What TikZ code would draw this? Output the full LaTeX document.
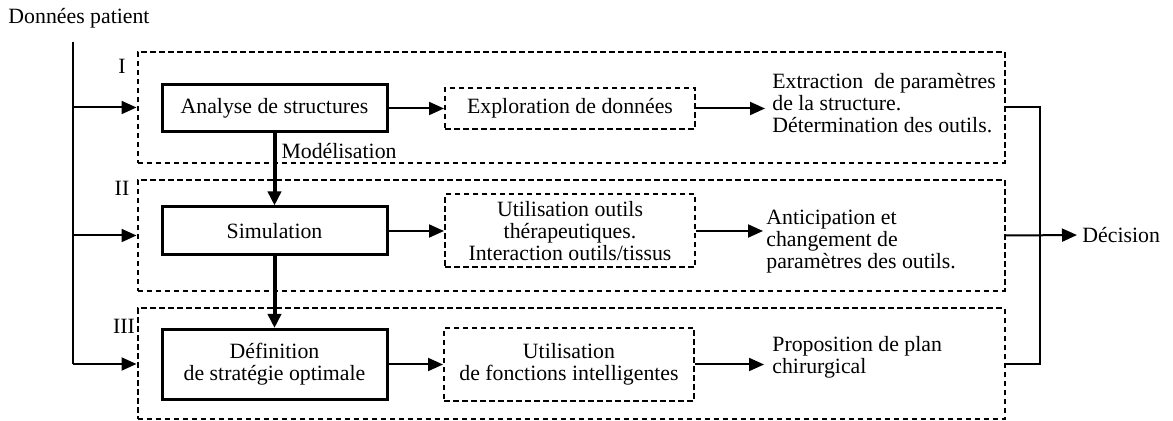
\documentclass[tikz,border=0pt]{standalone}
\usepackage{fontspec}
\setmainfont{Liberation Serif}
\usetikzlibrary{arrows.meta}

\begin{document}
\begin{tikzpicture}[x=0.5pt,y=-0.5pt,
	font=\fontsize{10.9}{11}\selectfont,
	frame/.style={draw,line width=1pt,dash pattern=on 2.75pt off 1.75pt,minimum width=433.5pt,minimum height=55.5pt,inner sep=0pt},
	mainbox/.style={draw,line width=1.5pt,minimum width=112.5pt,align=center,inner sep=0pt},
	subbox/.style={draw,line width=1pt,dash pattern=on 2.75pt off 1.75pt,minimum width=125pt,align=center,inner sep=0pt},
	outtext/.style={anchor=west,align=left,inner sep=0pt},
	arr/.style={line width=1pt,-{Triangle[length=7.5pt,width=6.5pt]}},
	bigarr/.style={line width=2pt,-{Triangle[length=7pt,width=6.5pt]}}]
	\useasboundingbox (0,0) rectangle (1173,421);
	\node (patient) at (79,18) {Données patient};
	\coordinate (ltop) at (73,42);
	\coordinate (lbot) at (73,364);
	\coordinate (join) at (1040,235);
	
	\node[frame] (frameI) at (571,107.5) {};
	\node[frame] (frameII) at (571,235.5) {};
	\node[frame] (frameIII) at (571,364) {};
	\node (lblI) at (122,66) {I};
	\node (lblII) at (122,188) {II};
	\node (lblIII) at (124,326) {III};
	
	\node[mainbox,minimum height=23.5pt] (analyse) at (274.5,108.5) {Analyse de structures};
	\node[mainbox,minimum height=24pt] (simul) at (274.5,231) {Simulation};
	\node[mainbox,minimum height=35pt] (strat) at (274.5,364.5) {Définition\\de stratégie optimale};
	
	\node[subbox,minimum height=20.5pt] (explor) at (570,108.5) {Exploration de données};
	\node[subbox,minimum height=36.5pt] (outils) at (570,231) {Utilisation outils\\thérapeutiques.\\Interaction outils/tissus};
	\node[subbox,minimum height=36.5pt] (fonct) at (569,364.5) {Utilisation\\de fonctions intelligentes};
	
	\node[outtext] (extract) at (772,103) {Extraction~ de paramètres\\de la structure.\\Détermination des outils.};
	\node[outtext] (antic) at (766,242) {Anticipation et\\changement de\\paramètres des outils.};
	\node[outtext] (propos) at (772,357.5) {Proposition de plan\\chirurgical};
	\node[outtext] (decision) at (1082,235) {Décision};
	
	% entree des donnees
	\draw[line width=1pt] (ltop) -- (lbot);
	\draw[arr] (frameI.west -| ltop) -- (frameI.west);
	\draw[arr] (frameII.west -| ltop) -- (frameII.west);
	\draw[arr] (lbot) -- (frameIII.west);
	
	% chaine principale
	\draw[bigarr] (analyse) -- (simul) node[pos=0.24,right,inner sep=2.5pt] {Modélisation};
	\draw[bigarr] (simul) -- (strat);
	
	\draw[arr] (analyse) -- (explor);
	\draw[arr] (simul) -- (outils);
	\draw[arr] (strat) -- (fonct);
	\draw[arr,shorten >=3.5pt] (explor.east) -- (explor.east -| extract.west);
	\draw[arr,shorten >=1.5pt] (outils.east) -- (outils.east -| antic.west);
	\draw[arr,shorten >=4pt] (fonct.east) -- (fonct.east -| propos.west);
	
	% decision
	\draw[line width=1pt] (frameI.east) -| (join);
	\draw[line width=1pt] (frameIII.east) -| (join);
	\draw[arr,shorten >=2.5pt] (frameII.east) -- (decision.west);
\end{tikzpicture}
\end{document}
